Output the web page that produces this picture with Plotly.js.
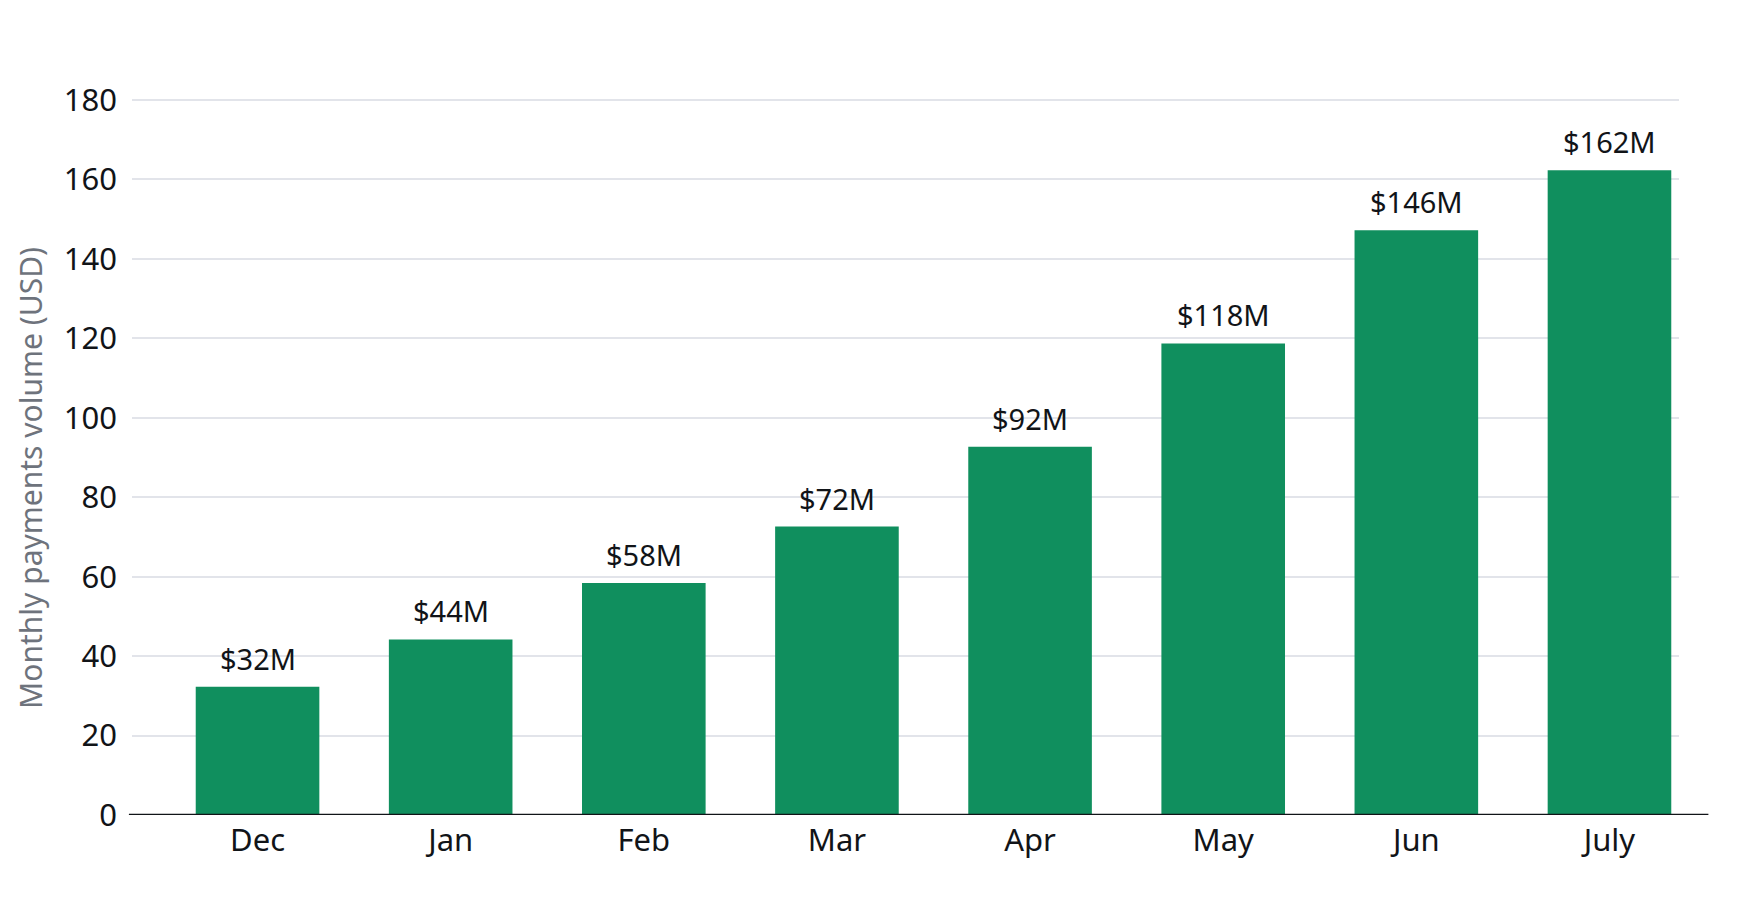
<!DOCTYPE html>
<html>
<head>
<meta charset="utf-8">
<script src="https://cdn.plot.ly/plotly-3.0.1.min.js"></script>
<style>
  html, body { margin: 0; padding: 0; background: #fff; }
  #chart { width: 1740px; height: 904px; }
</style>
</head>
<body>
<div id="chart"></div>
<script>
// ── Data ──────────────────────────────────────────────────────────────────────
const months = ['Dec', 'Jan', 'Feb', 'Mar', 'Apr', 'May', 'Jun', 'July'];
const volume = [32.3, 44.2, 58.4, 72.6, 92.7, 118.7, 147.2, 162.3];   // bar heights, $M
const volumeLabels = ['$32M', '$44M', '$58M', '$72M', '$92M', '$118M', '$146M', '$162M'];
const yTicks = [0, 20, 40, 60, 80, 100, 120, 140, 160, 180];

// ── Style ─────────────────────────────────────────────────────────────────────
const FONT = '"Noto Sans", "Open Sans", sans-serif';
const GREEN = '#108f5e';
const INK = '#111418';

const trace = {
  type: 'bar',
  x: months,
  y: volume,
  marker: { color: GREEN, line: { width: 0 } },
  width: 0.64,
  hoverinfo: 'skip',
};

// value labels sit a little above each bar
const labels = months.map((m, i) => ({
  x: m,
  y: volume[i],
  xref: 'x',
  yref: 'y',
  text: volumeLabels[i],
  showarrow: false,
  yanchor: 'bottom',
  yshift: 7,
  font: { family: FONT, size: 29, color: INK },
}));

const layout = {
  width: 1740,
  height: 904,
  paper_bgcolor: '#ffffff',
  plot_bgcolor: '#ffffff',
  font: { family: FONT, color: INK },
  margin: { l: 132, r: 61, t: 98, b: 89 },
  showlegend: false,
  xaxis: {
    type: 'category',
    range: [-0.65, 7.36],
    showgrid: false,
    zeroline: false,
    showline: false,
    ticks: '',
    tickfont: { family: FONT, size: 31, color: INK },
    ticklabelstandoff: 4,
    fixedrange: true,
  },
  yaxis: {
    range: [0, 180.5],
    tickvals: yTicks,
    ticktext: yTicks.map(String),
    showgrid: true,
    gridcolor: '#e2e4ea',
    gridwidth: 2,
    zeroline: false,
    showline: false,
    ticks: '',
    tickfont: { family: FONT, size: 31, color: INK },
    ticklabelstandoff: 14,
    fixedrange: true,
  },
  shapes: [{
    // baseline runs a bit past the grid on the right
    type: 'line',
    xref: 'paper', yref: 'y',
    x0: -0.002, x1: 1.019, y0: 0, y1: 0,
    line: { color: INK, width: 2.5 },
    layer: 'above',
  }],
  annotations: labels.concat([{
    xref: 'paper', yref: 'paper',
    x: -0.066, y: 0.47,
    xanchor: 'center', yanchor: 'middle',
    text: 'Monthly payments volume (USD)',
    textangle: -90,
    showarrow: false,
    font: { family: FONT, size: 30, color: '#6e737c' },
  }]),
};

Plotly.newPlot('chart', [trace], layout, { displayModeBar: false, staticPlot: true });
</script>
</body>
</html>
